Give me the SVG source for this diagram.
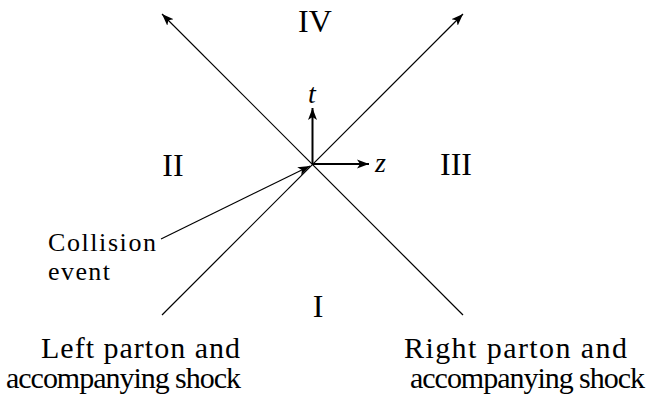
<svg xmlns="http://www.w3.org/2000/svg" width="651" height="397" viewBox="0 0 651 397">
<style>
.ln{stroke:#000;stroke-width:1.2;fill:none}
.ax{stroke:#000;stroke-width:2;fill:none}
.tx{font-family:"Liberation Serif","Times New Roman",serif;font-size:30px;fill:#000}
.cl{font-family:"Liberation Serif","Times New Roman",serif;font-size:26px;fill:#000}
.rn{font-family:"Liberation Serif","Times New Roman",serif;font-size:32px;fill:#000;text-anchor:middle}
.it{font-family:"Liberation Serif","Times New Roman",serif;font-size:28px;font-style:italic;fill:#000}
</style>
<defs>
<marker id="ah" markerUnits="userSpaceOnUse" markerWidth="14" markerHeight="10" viewBox="-12 -5 14 10" refX="0" refY="0" orient="auto">
<path d="M0,0 L-12,-4.5 L-9,0 L-12,4.5 Z" fill="#000"/>
</marker>
</defs>
<g id="connectors">
<line class="ln" x1="162" y1="315" x2="463" y2="14" marker-end="url(#ah)"/>
<line class="ln" x1="463" y1="315" x2="162" y2="14" marker-end="url(#ah)"/>
<line class="ax" x1="312.5" y1="164" x2="312.5" y2="108" marker-end="url(#ah)"/>
<line class="ax" x1="312.5" y1="164" x2="369" y2="164" marker-end="url(#ah)"/>
<line class="ln" x1="161" y1="239" x2="310" y2="166" marker-end="url(#ah)"/>
</g>
<g id="axis-labels">
<text class="it" x="308" y="103">t</text>
<text class="it" x="375" y="172">z</text>
</g>
<g id="regions">
<text class="rn" x="315" y="32">IV</text>
<text class="rn" x="173" y="176">II</text>
<text class="rn" x="456" y="175">III</text>
<text class="rn" x="318" y="317">I</text>
</g>
<g id="collision-label">
<text class="cl" x="48" y="251" textLength="108" lengthAdjust="spacing">Collision</text>
<text class="cl" x="48" y="280" textLength="62" lengthAdjust="spacing">event</text>
</g>
<g id="left-label">
<text class="tx" x="41" y="358" textLength="199" lengthAdjust="spacing">Left parton and</text>
<text class="tx" x="6" y="388" textLength="235" lengthAdjust="spacing">accompanying shock</text>
</g>
<g id="right-label">
<text class="tx" x="404" y="358" textLength="223" lengthAdjust="spacing">Right parton and</text>
<text class="tx" x="410" y="388" textLength="235" lengthAdjust="spacing">accompanying shock</text>
</g>
</svg>
